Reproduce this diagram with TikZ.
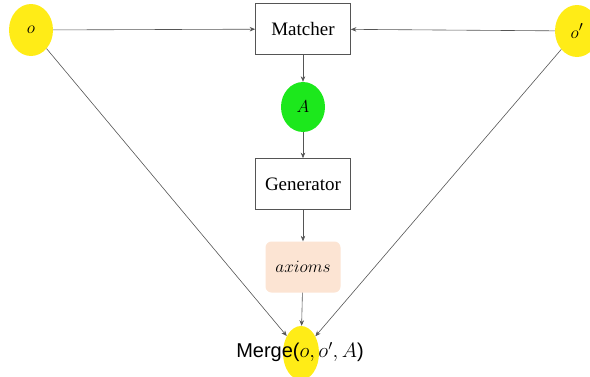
\documentclass[tikz,border=0pt]{standalone}
\usepackage{fontspec}
\setmainfont{Liberation Serif}
\setsansfont{Liberation Sans}
\usetikzlibrary{arrows.meta,shapes.geometric}
\definecolor{ylw}{HTML}{FFEC17}
\definecolor{grn}{HTML}{1CE81C}
\definecolor{peach}{HTML}{FCE4D3}
\definecolor{ln}{HTML}{555555}
\begin{document}
\begin{tikzpicture}[x=1pt,y=1pt,
  every node/.style={font=\fontsize{19}{22}\selectfont},
  blob/.style={ellipse,inner sep=0pt,minimum width=44pt,minimum height=52pt},
  boxx/.style={draw=ln,line width=0.7pt,minimum width=95pt,minimum height=51pt,inner sep=0pt},
  conn/.style={draw=ln,line width=0.6pt,-{Stealth[length=5.5pt,width=4.5pt]}}]
\useasboundingbox (0,0) rectangle (590,-376);
\node[blob,fill=ylw] (o) at (31,-30) {$o$};
\node[blob,fill=ylw] (op) at (577,-31) {$o'$};
\node[boxx] (m) at (303,-29) {Matcher};
\node[blob,fill=grn,minimum height=50pt] (a) at (303,-107) {$A$};
\node[boxx] (g) at (303,-184) {Generator};
\node[fill=peach,rounded corners=6pt,minimum width=75pt,minimum height=51pt,inner sep=0pt] (ax) at (303,-267) {$axioms$};
\node[blob,fill=ylw,minimum width=36pt,minimum height=54pt] (me) at (301,-353) {};
\node[font=\fontsize{20}{24}\selectfont\sffamily] (mt) at (300,-352) {Merge($o,o',A$)};
\draw[conn] (o) -- (m);
\draw[conn] (op) -- (m);
\draw[conn] (m) -- (a);
\draw[conn] (a) -- (g);
\draw[conn] (g) -- (ax);
\draw[conn] (ax) -- (me);
\draw[conn] (o) -- (me);
\draw[conn] (op) -- (me);
\end{tikzpicture}
\end{document}
